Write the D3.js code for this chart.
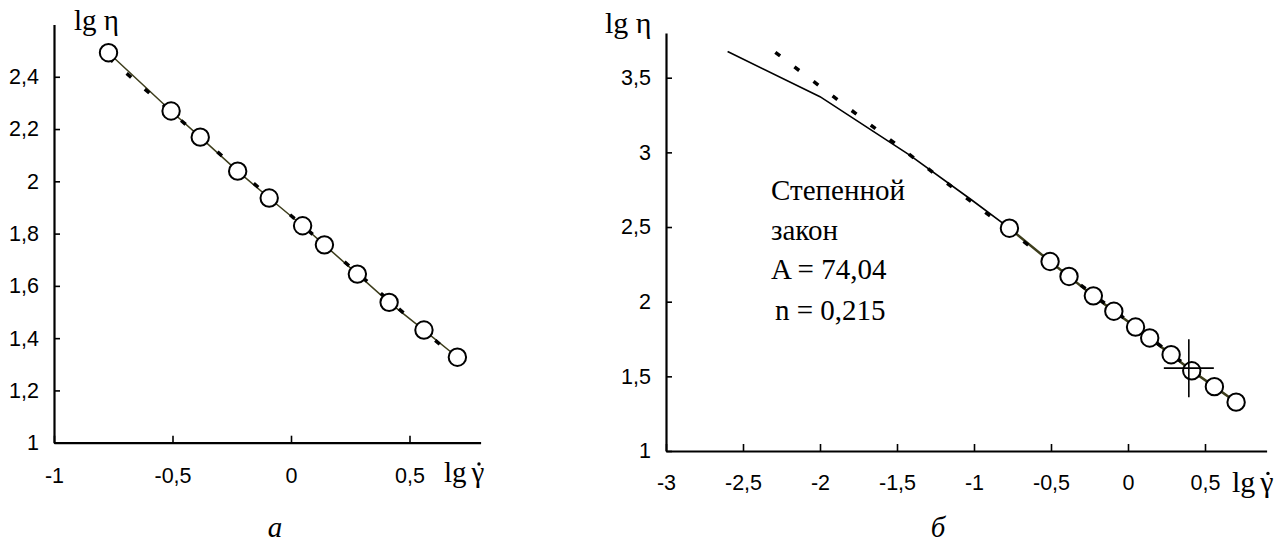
<!DOCTYPE html>
<html>
<head>
<meta charset="utf-8">
<script src="https://cdn.jsdelivr.net/npm/d3@7"></script>
<style>
  body { margin: 0; background: #fff; }
  .tick text { font-family: "Liberation Sans", Arial, sans-serif; font-size: 21.5px; fill: #000; }
  .serif { font-family: "Liberation Serif", "Times New Roman", serif; fill: #000; }
</style>
</head>
<body>
<div id="vis"></div>
<script>
// measured points (same in both panels)
const lgShear = [-0.77, -0.506, -0.383, -0.225, -0.092, 0.049, 0.141, 0.280, 0.414, 0.561, 0.702]
const lgVisc  = [2.492, 2.269, 2.169, 2.039, 1.936, 1.830, 1.757, 1.645, 1.537, 1.431, 1.327]

// solid model curve, right panel (extrapolated part)
const modelX = [-2.6, -2.0, -1.42, -1.015, -0.77]
const modelY = [3.675, 3.373, 2.983, 2.681, 2.492]

// power law (dashed), A = 74,04  n = 0,215
const powerX = [-2.29, 0.70]
const powerY = [3.67, 1.32]
const powerLeftX = [-0.77, 0.70]
const powerLeftY = [2.473, 1.32]

// cross marker on the right panel
const crossX = 0.395, crossY = 1.555

// tick values
const leftXTicks = [-1, -0.5, 0, 0.5]
const leftYTicks = [1, 1.2, 1.4, 1.6, 1.8, 2, 2.2, 2.4]
const rightXTicks = [-3, -2.5, -2, -1.5, -1, -0.5, 0, 0.5]
const rightYTicks = [1, 1.5, 2, 2.5, 3, 3.5]

const lawText = ['Степенной', 'закон', 'A = 74,04', 'n = 0,215']

const width = 1287, height = 545
const olive = '#3d3d1c'

const svg = d3.select('#vis')
    .append('svg')
    .attr('width', width)
    .attr('height', height)

const fmt = d => String(d).replace('.', ',')

function drawPanel(p) {
    const g = svg.append('g')

    const xScale = d3.scaleLinear().domain(p.xDomain).range(p.xRange)
    const yScale = d3.scaleLinear().domain(p.yDomain).range(p.yRange)

    // axes, ticks pointing inwards
    g.append('g')
        .attr('transform', `translate(0,${p.yRange[0]})`)
        .call(d3.axisBottom(xScale).tickValues(p.xTicks).tickFormat(fmt)
            .tickSizeInner(-7).tickSizeOuter(0).tickPadding(p.xPad))
    g.append('g')
        .attr('transform', `translate(${p.xRange[0]},0)`)
        .call(d3.axisLeft(yScale).tickValues(p.yTicks).tickFormat(fmt)
            .tickSizeInner(-6).tickSizeOuter(0).tickPadding(15))
    g.selectAll('.domain').attr('stroke', '#000').attr('stroke-width', 2.2)
    g.selectAll('.tick line').attr('stroke', '#000').attr('stroke-width', 1.6)

    const line = d3.line().x(d => xScale(d[0])).y(d => yScale(d[1]))

    if (p.model) {
        g.append('path')
            .datum(d3.zip(modelX, modelY))
            .attr('d', line)
            .attr('fill', 'none')
            .attr('stroke', '#000')
            .attr('stroke-width', 1.6)
    }

    // line through the points
    g.append('path')
        .datum(d3.zip(lgShear, lgVisc))
        .attr('d', line)
        .attr('fill', 'none')
        .attr('stroke', olive)
        .attr('stroke-width', p.model ? 2.5 : 1.5)

    // power law, heavy short dashes
    g.append('path')
        .datum(d3.zip(p.powX, p.powY))
        .attr('d', line)
        .attr('fill', 'none')
        .attr('stroke', '#000')
        .attr('stroke-width', 3.5)
        .attr('stroke-dasharray', '6,18')

    g.selectAll('.pt')
        .data(d3.zip(lgShear, lgVisc))
        .join('circle')
        .attr('class', 'pt')
        .attr('cx', d => xScale(d[0]))
        .attr('cy', d => yScale(d[1]))
        .attr('r', 8.7)
        .attr('fill', '#fff')
        .attr('stroke', '#000')
        .attr('stroke-width', 2)

    if (p.model) {
        const cx = xScale(crossX), cy = yScale(crossY)
        g.append('line').attr('x1', cx - 25).attr('x2', cx + 25).attr('y1', cy).attr('y2', cy)
            .attr('stroke', '#000').attr('stroke-width', 1.6)
        g.append('line').attr('x1', cx).attr('x2', cx).attr('y1', cy - 29).attr('y2', cy + 29)
            .attr('stroke', '#000').attr('stroke-width', 1.6)

        g.selectAll('.law')
            .data(lawText)
            .join('text')
            .attr('class', 'law serif')
            .attr('x', (d, i) => i == 3 ? 775 : 771)
            .attr('y', (d, i) => [200, 240, 279, 320][i])
            .style('font-size', '29px')
            .text(d => d)
    }

    // axis titles
    g.append('text')
        .attr('class', 'serif')
        .attr('x', p.yLab[0]).attr('y', p.yLab[1])
        .style('font-size', p.labSize + 'px')
        .text('lg η')

    const xl = g.append('text')
        .attr('class', 'serif')
        .attr('x', p.xLab[0]).attr('y', p.xLab[1])
        .style('font-size', p.labSize + 'px')
        .text('lg')
    const gx = p.xLab[0] + xl.node().getComputedTextLength() + 5
    const gam = g.append('text')
        .attr('class', 'serif')
        .attr('x', gx).attr('y', p.xLab[1])
        .style('font-size', p.labSize + 'px')
        .text('γ')
    // dot above gamma (time derivative)
    const gw = gam.node().getComputedTextLength()
    g.append('circle')
        .attr('cx', gx + gw / 2 + 1)
        .attr('cy', p.xLab[1] - p.labSize * 0.62)
        .attr('r', 1.7)
        .attr('fill', '#000')

    // panel caption
    g.append('text')
        .attr('class', 'serif')
        .attr('x', p.cap[0]).attr('y', p.cap[1])
        .attr('text-anchor', 'middle')
        .style('font-size', '29px')
        .style('font-style', 'italic')
        .text(p.capText)
}

drawPanel({
    xDomain: [-1, 0.8], xRange: [54, 480.6],
    yDomain: [1, 2.6], yRange: [442.7, 24.5],
    xTicks: leftXTicks, yTicks: leftYTicks, xPad: 25,
    powX: powerLeftX, powY: powerLeftY,
    model: false,
    yLab: [74, 30], xLab: [444, 482], labSize: 29,
    cap: [275, 537], capText: 'а'
})

drawPanel({
    xDomain: [-3, 0.9], xRange: [666, 1266.6],
    yDomain: [1, 3.8], yRange: [451, 32.9],
    xTicks: rightXTicks, yTicks: rightYTicks, xPad: 24,
    powX: powerX, powY: powerY,
    model: true,
    yLab: [605, 33], xLab: [1232, 492], labSize: 30,
    cap: [938, 537], capText: 'б'
})
</script>
</body>
</html>
